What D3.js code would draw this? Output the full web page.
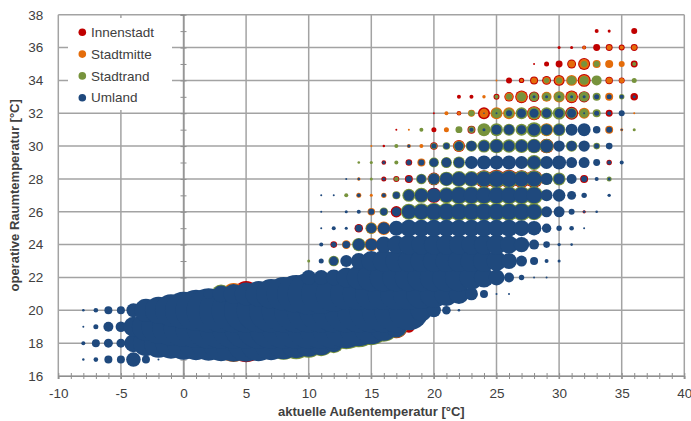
<!DOCTYPE html>
<html>
<head>
<meta charset="utf-8">
<script src="https://cdn.jsdelivr.net/npm/d3@7"></script>
<style>
  body { margin: 0; background: #fff; }
  svg { display: block; }
  text { font-family: "Liberation Sans", Arial, sans-serif; fill: #404040; }
</style>
</head>
<body>
<svg id="chart" width="691" height="421"></svg>
<script>
// Axis ticks
const xTicks = [-10, -5, 0, 5, 10, 15, 20, 25, 30, 35, 40];
const yTicks = [16, 18, 20, 22, 24, 26, 28, 30, 32, 34, 36, 38];

const seriesNames = ["Innenstadt", "Stadtmitte", "Stadtrand", "Umland"];
const seriesColors = ["#C00000", "#E46C0A", "#77933C", "#1F497D"];

// Frequency of (outdoor temp, room temp) pairs per site class.
// Each row: [room temperature, first outdoor temperature, values for x, x+1, ...]
const innenstadt = [
  [18, 5, 361],
  [19, 17, 132, 36],
  [21, 5, 169],
  [24, 12, 11],
  [25, 14, 18],
  [26, 17, 32],
  [26, 32, 2.6],
  [27, 20, 56],
  [28, 16, 6.3, 9, 16, 0, 40],
  [28, 24, 77, 86, 86, 77, 77],
  [28, 32, 16],
  [29, 16, 5.3, 0, 11],
  [29, 34, 7.3],
  [30, 16, 1.5],
  [30, 20, 14, 0, 36],
  [30, 29, 53],
  [31, 17, 1, 0, 0, 6.3, 0, 0, 16],
  [32, 20, 1, 0, 5.3, 0, 36],
  [32, 28, 49, 0, 0, 42, 0, 0, 12],
  [33, 22, 4, 4, 0, 9, 22, 40, 28, 0, 0, 40, 32],
  [33, 36, 14],
  [34, 26, 9, 7.3, 16, 20, 30, 0, 42, 0, 14, 9],
  [35, 28, 1, 6.3, 12, 20, 36, 0, 0, 0, 12],
  [36, 30, 2.3, 2.3, 4, 12, 12, 9, 12],
  [37, 33, 4, 2.3, 0, 9]
];

const stadtmitte = [
  [18, 4, 355],
  [21, 4, 121],
  [24, 13, 18.5, 0, 45],
  [25, 15, 34, 45],
  [26, 15, 14],
  [27, 14, 6.3, 2.3, 7.3],
  [28, 14, 2.9],
  [29, 19, 16],
  [30, 15, 1, 0, 0, 4, 4, 0, 0, 32],
  [31, 18, 1, 0, 0, 6.3],
  [31, 29, 42],
  [31, 34, 16, 2.3],
  [32, 21, 4, 3.2, 12, 20, 36, 36, 0, 42, 0, 0, 0, 30, 0, 0, 0, 1],
  [33, 24, 2.9, 0, 16, 30, 0, 25, 32, 30, 0, 0, 16],
  [34, 25, 1, 0, 2.3, 9, 12, 20, 30, 30, 0, 9, 6.3],
  [35, 31, 12, 25, 16, 16, 9],
  [36, 32, 2.3, 0, 6.3, 4, 6.3]
];

const stadtrand = [
  [18, 8, 272, 256, 210, 169, 100],
  [19, 13, 506, 420, 342, 225, 121],
  [21, 3, 90],
  [23, 10, 2.3, 0, 28],
  [24, 14, 45],
  [25, 15, 30],
  [26, 16, 18, 0, 64, 72, 81, 81, 81, 81, 81, 81, 81, 81, 72],
  [27, 13, 4, 0, 0, 0, 16, 42, 56, 0, 64, 81, 81, 81, 81, 81, 81, 81],
  [28, 15, 2.3, 0, 5.3, 0, 28, 36, 53, 61, 61, 69, 77, 77, 69, 69, 38, 42, 0, 0, 0, 6.3],
  [29, 14, 1.7, 2.3, 0, 4, 0, 0, 25, 30, 36, 0, 0, 0, 0, 0, 56],
  [30, 17, 4, 0, 0, 10, 14, 27, 32, 42, 53, 45, 49, 53, 49, 0, 32, 0, 11],
  [31, 19, 4, 0, 0, 12, 11, 42, 42, 36, 36, 56, 36, 40],
  [31, 36, 2.3],
  [32, 23, 9, 0, 25, 25, 36, 36, 36, 40, 30, 20, 16],
  [33, 25, 4, 9, 20, 20, 18.5, 25, 20, 25, 16, 0, 7.3],
  [34, 29, 6.3, 9, 20, 20, 25, 0, 0, 6.3],
  [35, 32, 9, 9, 0, 0, 4]
];

const umland = [
  [17, -8, 1.5, 5.3, 16, 16, 53, 16, 1],
  [18, -8, 4, 16, 20, 20, 81, 169, 210, 240, 272, 289, 306, 324, 342, 342, 324, 289, 256, 225, 182, 144, 81, 25],
  [19, -8, 1, 6.3, 25, 28, 100, 196, 289, 361, 400, 441,
        484, 484, 484, 484, 484, 484, 484, 484, 484, 484, 484, 462, 380, 306, 196, 110],
  [20, -8, 1.7, 5.3, 16, 16, 49, 132, 182, 256, 342, 420,
        484, 484, 484, 484, 484, 484, 484, 484, 484, 484, 484, 484, 484, 484, 484, 484,
        400, 121, 49, 18.5, 1.7],
  [21, 2, 25, 72, 100, 132, 169, 225, 289, 361, 441, 400, 324,
        256, 256, 256, 256, 256, 256, 225, 196, 144, 100, 42, 16, 1, 1],
  [22, 10, 56, 56, 64, 100, 144, 196, 196, 196, 196, 196, 196, 196, 196, 144, 100, 64, 25, 7.3, 1, 1],
  [23, 11, 6.3, 20, 36, 64, 100, 121, 121, 121, 121, 121, 121, 121, 121, 121, 100, 64, 30, 16, 4, 2.3],
  [24, 11, 4, 7.3, 14, 36, 36, 64, 81, 100, 100, 100, 100, 100, 100, 100, 100, 81, 59, 25, 11, 2.9, 1.7],
  [25, 11, 1, 4, 2.3, 12, 25, 36, 56, 72, 72, 72, 72, 72, 72, 72, 72, 72, 64, 53, 22, 7.3, 5.3, 1],
  [26, 11, 1, 0, 2.3, 4, 9, 12, 20, 49, 56, 64, 64, 64, 64, 64, 64, 64, 64, 56, 30, 30, 9, 1.5, 1.7],
  [27, 11, 1, 1, 0, 3.2, 0, 4, 11, 30, 42, 49, 49, 64, 64, 64, 64, 64, 64, 64, 36, 40, 20, 7.3, 0, 2.9],
  [28, 13, 1, 1.5, 0, 2.3, 0, 9, 20, 30, 42, 49, 49, 56, 64, 64, 56, 56, 36, 30, 25, 9, 4, 2.3],
  [29, 16, 2.3, 0, 6.3, 9, 18.5, 23, 27, 42, 49, 49, 49, 42, 42, 42, 49, 30, 30, 12, 4, 4],
  [30, 18, 2.3, 0, 6.3, 9, 20, 25, 30, 40, 30, 36, 42, 40, 32, 25, 32, 6.3, 11],
  [31, 23, 4, 2.3, 25, 25, 20, 36, 30, 30, 36, 42, 14, 9, 1],
  [32, 24, 0.6, 1, 9, 20, 20, 20, 20, 20, 1, 6.3, 4, 9],
  [33, 28, 2.3, 2.3, 2.3, 2.3, 2.3, 6.3, 6.3, 4, 2.3]
];

const seriesRows = [innenstadt, stadtmitte, stadtrand, umland];

// Expand the row notation into individual bubbles
function expand(rows) {
  const pts = [];
  rows.forEach(row => {
    const [ty, x0, ...vals] = row;
    vals.forEach((v, i) => { if (v > 0) pts.push({ x: x0 + i, y: ty, v }); });
  });
  return pts;
}

const svg = d3.select("#chart");
const plot = { left: 58.3, right: 684.3, top: 14.7, bottom: 376 };

const x = d3.scaleLinear().domain([-10, 40]).range([plot.left, plot.right]);
const y = d3.scaleLinear().domain([16, 38]).range([plot.bottom, plot.top]);
const r = d3.scaleSqrt().domain([0, 500]).range([0, Math.sqrt(500)]);

const gridColor = "#a3a3a3";
const axisColor = "#8f8f8f";
const font = '"Liberation Sans", Arial, sans-serif';

// Major gridlines
svg.append("g")
  .selectAll("line").data(xTicks).join("line")
  .attr("x1", d => x(d)).attr("x2", d => x(d))
  .attr("y1", plot.top).attr("y2", plot.bottom + 3)
  .attr("stroke", gridColor).attr("stroke-width", 1.5);
svg.append("g")
  .selectAll("line").data(yTicks).join("line")
  .attr("x1", plot.left).attr("x2", plot.right)
  .attr("y1", d => y(d)).attr("y2", d => y(d))
  .attr("stroke", gridColor).attr("stroke-width", 1.5);

// Horizontal axis with minor ticks every degree
const xMinor = svg.append("g")
  .attr("transform", `translate(0,${y(16)})`)
  .call(d3.axisBottom(x).tickValues(d3.range(-10, 41, 1)).tickSize(3).tickFormat(""));
xMinor.select(".domain").attr("stroke", axisColor).attr("stroke-width", 1.2);
xMinor.selectAll(".tick line").attr("y1", -3).attr("stroke", axisColor);

// Vertical axis crossing at 0 °C with minor ticks
const yMinor = svg.append("g")
  .attr("transform", `translate(${x(0)},0)`)
  .call(d3.axisLeft(y).tickValues(d3.range(16, 39, 1)).tickSize(3).tickFormat(""));
yMinor.select(".domain").attr("stroke", axisColor).attr("stroke-width", 1.2);
yMinor.selectAll(".tick line").attr("x1", 3).attr("stroke", axisColor);

// Tick labels
const xLab = svg.append("g")
  .attr("transform", `translate(0,${y(16)})`)
  .call(d3.axisBottom(x).tickValues(xTicks).tickSize(0).tickPadding(12).tickFormat(d => String(d)));
xLab.select(".domain").remove();
xLab.selectAll("text").attr("font-size", 13.5).attr("fill", "#404040").style("font-family", font);

const yLab = svg.append("g")
  .attr("transform", `translate(${plot.left},0)`)
  .call(d3.axisLeft(y).tickValues(yTicks).tickSize(0).tickPadding(15).tickFormat(d => String(d)));
yLab.select(".domain").remove();
yLab.selectAll("text").attr("font-size", 13.5).attr("fill", "#404040").style("font-family", font);

// Bubbles: Innenstadt first, Umland on top
seriesRows.forEach((rows, si) => {
  svg.append("g")
    .selectAll("circle").data(expand(rows)).join("circle")
    .attr("cx", d => x(d.x))
    .attr("cy", d => y(d.y))
    .attr("r", d => r(d.v))
    .attr("fill", seriesColors[si]);
});

// Legend
const lg = svg.append("g");
lg.append("rect").attr("x", 68).attr("y", 18).attr("width", 104).attr("height", 92).attr("fill", "#fff");
seriesNames.forEach((name, i) => {
  const cy = 32.3 + i * 21.8;
  lg.append("circle").attr("cx", 82.3).attr("cy", cy).attr("r", 3.8).attr("fill", seriesColors[i]);
  lg.append("text").attr("x", 91).attr("y", cy + 4.6).attr("font-size", 13.5).text(name);
});

// Axis titles
svg.append("text")
  .attr("x", (plot.left + plot.right) / 2).attr("y", 416)
  .attr("text-anchor", "middle").attr("font-size", 13).attr("font-weight", "bold")
  .text("aktuelle Außentemperatur [°C]");
svg.append("text")
  .attr("transform", `translate(19,${(plot.top + plot.bottom) / 2}) rotate(-90)`)
  .attr("text-anchor", "middle").attr("font-size", 13).attr("font-weight", "bold")
  .text("operative Raumtemperatur [°C]");
</script>
</body>
</html>
